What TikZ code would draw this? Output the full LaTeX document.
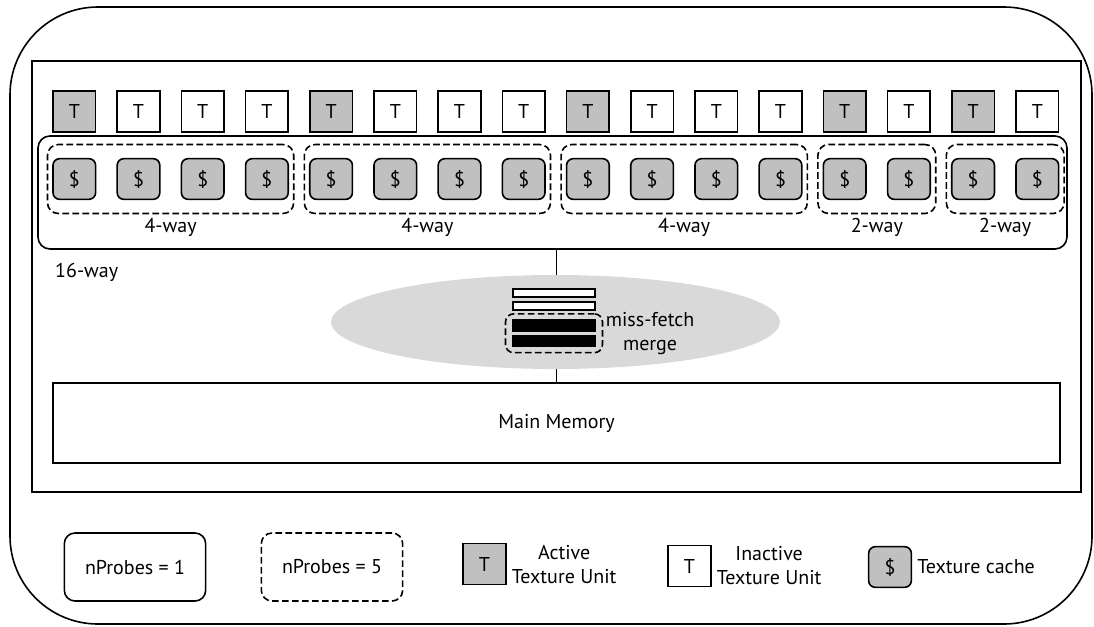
\documentclass[tikz,border=0pt]{standalone}
\usepackage{fontspec}
\setmainfont{PT Sans}
\usetikzlibrary{positioning, fit, shapes.geometric}

\definecolor{boxgray}{RGB}{192,192,192}
\definecolor{mshrgray}{RGB}{217,217,217}

\begin{document}
\begin{tikzpicture}[x=0.75pt, y=-0.75pt, line width=1.2pt,
	every node/.style={font=\fontsize{15}{18}\selectfont},
	dashbox/.style={dash pattern=on 5pt off 2.5pt},
	unit/.style={draw, minimum width=32pt, minimum height=30.5pt, inner sep=0pt},
	cache/.style={unit, fill=boxgray, rounded corners=5pt},
	probe/.style={draw, dashbox, rounded corners=8pt, inner xsep=3.5pt, inner ysep=10pt},
	nprobe/.style={draw, rounded corners=8pt, minimum width=106pt, minimum height=51pt},
	bar/.style={draw, fill=white, minimum width=61.5pt, minimum height=6pt, inner sep=0pt}]
	\useasboundingbox (0,0) rectangle (1094,626);

	% frames
	\draw[rounded corners=66pt] (10,7) rectangle (1092,624);
	\draw (32,61) rectangle (1081,492);

	% texture units and their caches
	\foreach \i in {0,4,8,12,14}
		\node[unit, fill=boxgray] (t\i) at (74.3+64.2*\i, 111.5) {T};
	\foreach \i in {1,2,3,5,6,7,9,10,11,13,15}
		\node[unit] (t\i) at (74.3+64.2*\i, 111.5) {T};
	\foreach \i in {0,...,15}
		\node[cache] (c\i) at (74.3+64.2*\i, 179) {\$};

	\node[draw, rounded corners=9pt, inner sep=0pt, fit={(38,136) (1067,249)}] (ways) {};
	\foreach \n/\a/\b/\w in {1/0/3/4, 2/4/7/4, 3/8/11/4, 4/12/13/2, 5/14/15/2} {
		\node[probe, fit=(c\a)(c\b)] (g\n) {};
		\node[below=-1pt of g\n] (w\n) {\w-way};
	}
	\node[anchor=west] (sixteen) at (50,272) {16-way};

	% memory and the merge buffer
	\node[draw, inner sep=0pt, minimum width=755pt, minimum height=60pt] (mem) at (556.5,423) {Main Memory};
	\draw (ways.south -| mem.north) -- (mem.north);
	\node[ellipse, fill=mshrgray, minimum width=336.75pt, minimum height=70.5pt] (mshr) at (555.5,322) {};
	\node[bar] (b1) at (554,293) {};
	\node[bar] (b2) at (554,306) {};
	\node[bar, fill=black, minimum height=8.25pt] (b3) at (554,325.5) {};
	\node[bar, fill=black, minimum height=8.25pt] (b4) at (554,341) {};
	\node[probe, rounded corners=6pt, inner xsep=5pt, inner ysep=4pt, fit=(b3)(b4)] (merge) {};
	\node[right=-2pt of merge, align=center] (mergetxt) {miss-fetch\\merge};

	% legend
	\node[nprobe] (np1) at (135,567) {nProbes = 1};
	\node[nprobe, dashbox] (np5) at (332,567) {nProbes = 5};
	\node[unit, fill=boxgray] (lact) at (484.5,564) {T};
	\node[right=0pt of lact, align=center] (lacttxt) {Active\\Texture Unit};
	\node[unit] (linact) at (689.5,566) {T};
	\node[right=0pt of linact, align=center] (linacttxt) {Inactive\\Texture Unit};
	\node[cache] (lcache) at (890,567) {\$};
	\node[right=0pt of lcache] (lcachetxt) {Texture cache};
\end{tikzpicture}
\end{document}
